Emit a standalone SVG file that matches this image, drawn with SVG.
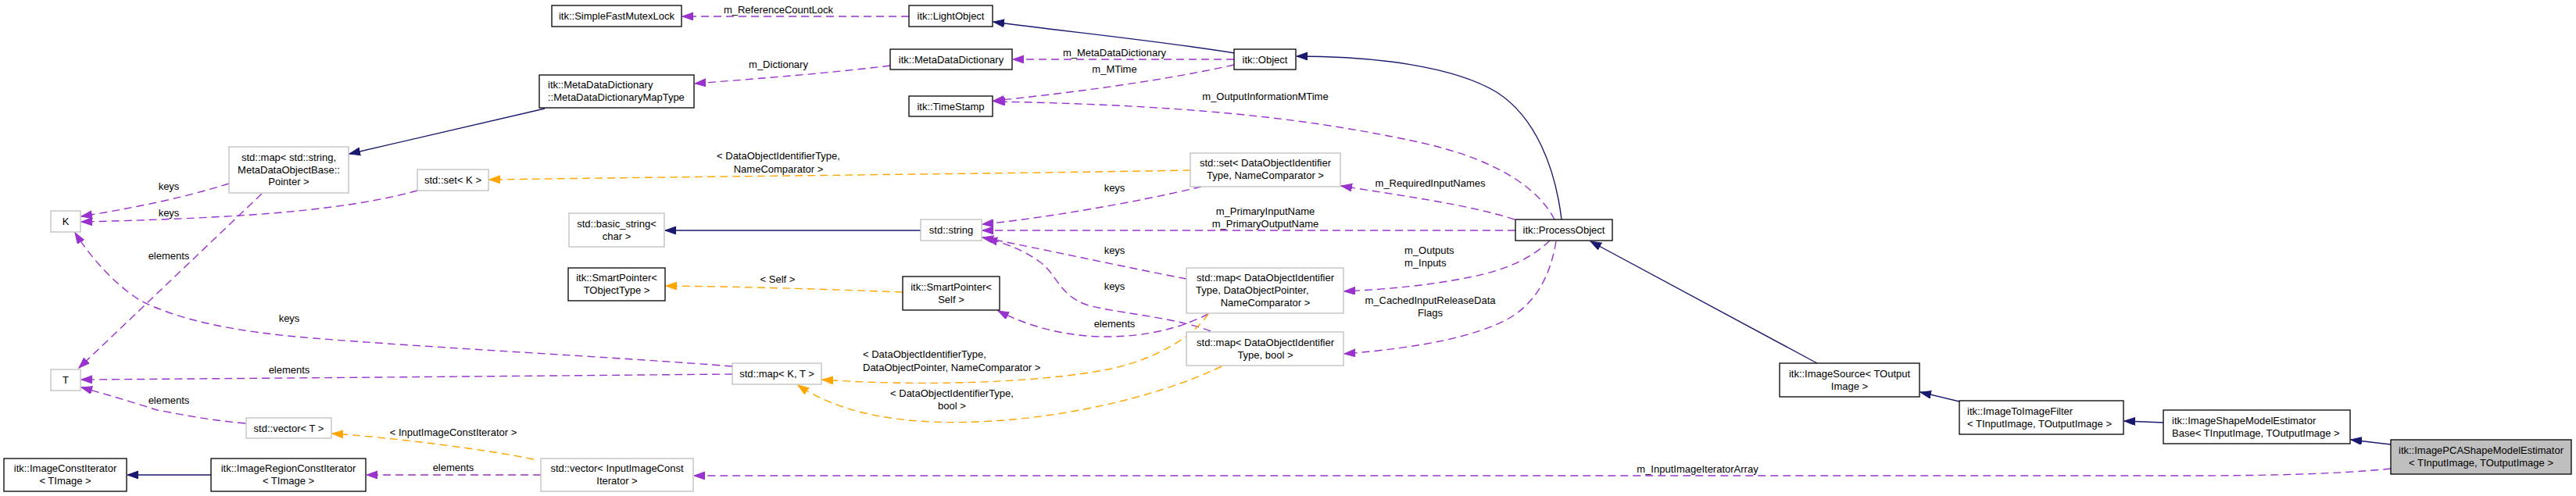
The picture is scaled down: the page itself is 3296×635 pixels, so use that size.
<svg xmlns="http://www.w3.org/2000/svg" width="3296" height="635" viewBox="0 0 3296 635">
<style>
text{font-family:"Liberation Sans",Arial,sans-serif;font-size:13px;fill:#000}
.c{text-anchor:middle}
.l{text-anchor:start}
.nd{fill:#fff;stroke:#000;stroke-width:1.3}
.nu{fill:#fff;stroke:#bfbfbf;stroke-width:1.3}
.nh{fill:#bfbfbf;stroke:#000;stroke-width:1.3}
.inh{fill:none;stroke:#191970;stroke-width:1.4;marker-end:url(#aB)}
.use{fill:none;stroke:#9a32cd;stroke-width:1.4;stroke-dasharray:10,6;marker-end:url(#aP)}
.tpl{fill:none;stroke:#ffa500;stroke-width:1.4;stroke-dasharray:10,6;marker-end:url(#aO)}
</style>
<defs>
<marker id="aB" markerUnits="userSpaceOnUse" markerWidth="16" markerHeight="12" refX="14" refY="5" orient="auto"><path d="M0,0 L14,5 L0,10 z" fill="#191970" stroke="#191970"/></marker>
<marker id="aP" markerUnits="userSpaceOnUse" markerWidth="16" markerHeight="12" refX="14" refY="5" orient="auto"><path d="M0,0 L14,5 L0,10 z" fill="#9a32cd" stroke="#9a32cd"/></marker>
<marker id="aO" markerUnits="userSpaceOnUse" markerWidth="16" markerHeight="12" refX="14" refY="5" orient="auto"><path d="M0,0 L14,5 L0,10 z" fill="#ffa500" stroke="#ffa500"/></marker>
</defs>
<rect width="3296" height="635" fill="#fff"/>
<g id="connectors">
<path class="inh" d="M1580,68 C1480,52 1360,40 1271,28"/>
<path class="inh" d="M1998,281 C1990,215 1965,150 1915,118 C1860,85 1760,72 1659,72"/>
<path class="inh" d="M2325,465 L2035,309"/>
<path class="inh" d="M2507,514 L2457,502"/>
<path class="inh" d="M2768,541 L2718,539"/>
<path class="inh" d="M3059,569 L3008,563"/>
<path class="inh" d="M697,139 L447,197"/>
<path class="inh" d="M1178,295 L851,295"/>
<path class="inh" d="M270,608 L163,608"/>
<path class="use" d="M1163,21 L873,21"/>
<text class="c" x="996" y="17">m_ReferenceCountLock</text>
<path class="use" d="M1139,84 C1050,95 950,102 889,107"/>
<text class="c" x="996" y="87">m_Dictionary</text>
<path class="use" d="M1579,76 L1296,76"/>
<text class="c" x="1426" y="72">m_MetaDataDictionary</text>
<path class="use" d="M1579,83 C1480,105 1360,120 1271,129"/>
<text class="c" x="1426" y="93">m_MTime</text>
<path class="use" d="M1989,281 C1960,225 1880,195 1806,180 C1700,158 1560,135 1272,130"/>
<text class="c" x="1619" y="128">m_OutputInformationMTime</text>
<path class="use" d="M1938,281 C1880,262 1790,250 1716,238"/>
<text class="c" x="1830" y="239">m_RequiredInputNames</text>
<path class="use" d="M1939,295 L1257,295"/>
<text class="c" x="1619" y="275">m_PrimaryInputName</text>
<text class="c" x="1619" y="291">m_PrimaryOutputName</text>
<path class="use" d="M1983,308 C1960,330 1930,345 1880,355 C1830,365 1780,370 1720,373"/>
<text class="l" x="1797" y="325">m_Outputs</text>
<text class="l" x="1797" y="341">m_Inputs</text>
<path class="use" d="M1991,309 C1985,345 1970,385 1930,408 C1890,430 1820,445 1720,453"/>
<text class="c" x="1830" y="389">m_CachedInputReleaseData</text>
<text class="c" x="1830" y="405">Flags</text>
<path class="use" d="M1537,239 C1450,260 1330,280 1257,287"/>
<text class="c" x="1426" y="245">keys</text>
<path class="use" d="M1518,357 C1430,340 1330,318 1257,304"/>
<text class="c" x="1426" y="325">keys</text>
<path class="use" d="M1549,424 C1500,405 1420,400 1390,390 C1355,378 1352,350 1330,335 C1310,320 1285,311 1262,306"/>
<text class="c" x="1426" y="371">keys</text>
<path class="use" d="M1546,402 C1510,420 1470,430 1422,431 C1370,432 1320,420 1277,398"/>
<text class="c" x="1426" y="419">elements</text>
<path class="tpl" d="M1155,374 C1050,370 950,367 852,366"/>
<text class="c" x="995" y="362">&lt; Self &gt;</text>
<path class="tpl" d="M1523,218 C1300,222 900,226 626,230"/>
<text class="c" x="996" y="204">&lt; DataObjectIdentifierType,</text>
<text class="c" x="996" y="221">NameComparator &gt;</text>
<path class="tpl" d="M1546,402 C1520,440 1460,465 1417,473 C1330,490 1180,495 1052,486"/>
<text class="l" x="1104" y="458">&lt; DataObjectIdentifierType,</text>
<text class="l" x="1104" y="475">DataObjectPointer, NameComparator &gt;</text>
<path class="tpl" d="M1563,469 C1500,500 1380,535 1250,540 C1130,545 1060,520 1021,493"/>
<text class="c" x="1218" y="508">&lt; DataObjectIdentifierType,</text>
<text class="c" x="1218" y="524">bool &gt;</text>
<path class="use" d="M937,469 C800,458 550,445 402,433 C300,425 230,410 180,385 C140,360 110,320 96,298"/>
<text class="c" x="370" y="412">keys</text>
<path class="use" d="M937,479 C700,481 400,484 104,486"/>
<text class="c" x="370" y="478">elements</text>
<path class="use" d="M293,235 C230,255 160,268 104,277"/>
<text class="c" x="216" y="243">keys</text>
<path class="use" d="M534,244 C470,262 380,272 290,277 C220,281 150,283 104,284"/>
<text class="c" x="216" y="277">keys</text>
<path class="use" d="M335,248 L101,471"/>
<text class="c" x="216" y="332">elements</text>
<path class="use" d="M314,542 C260,537 230,530 201,525 C170,515 130,503 104,496"/>
<text class="c" x="216" y="517">elements</text>
<path class="tpl" d="M683,588 C620,575 500,560 425,555"/>
<text class="c" x="580" y="558">&lt; InputImageConstIterator &gt;</text>
<path class="use" d="M692,608 L469,608"/>
<text class="c" x="580" y="603">elements</text>
<path class="use" d="M3059,600 C2990,607 2900,609 2800,609 L888,609"/>
<text class="c" x="2172" y="605">m_InputImageIteratorArray</text>
</g>
<g id="n_SimpleFastMutexLock"><rect class="nd" x="706" y="7" width="166" height="27"/><text class="c" x="789" y="25">itk::SimpleFastMutexLock</text></g>
<g id="n_LightObject"><rect class="nd" x="1163" y="7" width="107" height="27"/><text class="c" x="1216.5" y="25">itk::LightObject</text></g>
<g id="n_MetaDataDictionary"><rect class="nd" x="1139" y="63" width="156" height="26"/><text class="c" x="1217" y="80.5">itk::MetaDataDictionary</text></g>
<g id="n_Object"><rect class="nd" x="1579" y="63" width="79" height="26"/><text class="c" x="1618.5" y="80.5">itk::Object</text></g>
<g id="n_TimeStamp"><rect class="nd" x="1163" y="123" width="107" height="26"/><text class="c" x="1216.5" y="140.5">itk::TimeStamp</text></g>
<g id="n_MapType"><rect class="nd" x="690" y="96" width="198" height="42"/><text class="l" x="701" y="113">itk::MetaDataDictionary</text><text class="l" x="701" y="129">::MetaDataDictionaryMapType</text></g>
<g id="n_mapString"><rect class="nu" x="293" y="188" width="153" height="59"/><text class="c" x="369.5" y="205.5">std::map&lt; std::string,</text><text class="c" x="369.5" y="221.5">MetaDataObjectBase::</text><text class="c" x="369.5" y="236.5">Pointer &gt;</text></g>
<g id="n_setK"><rect class="nu" x="534" y="217" width="91" height="27"/><text class="c" x="579.5" y="235">std::set&lt; K &gt;</text></g>
<g id="n_K"><rect class="nu" x="65" y="270" width="38" height="27"/><text class="c" x="84" y="288">K</text></g>
<g id="n_basic_string"><rect class="nu" x="728" y="273" width="122" height="43"/><text class="c" x="789" y="291">std::basic_string&lt;</text><text class="c" x="789" y="307">char &gt;</text></g>
<g id="n_string"><rect class="nu" x="1178" y="281" width="78" height="27"/><text class="c" x="1217" y="299">std::string</text></g>
<g id="n_setDOI"><rect class="nu" x="1523" y="196" width="192" height="43"/><text class="c" x="1619" y="213">std::set&lt; DataObjectIdentifier</text><text class="c" x="1619" y="229">Type, NameComparator &gt;</text></g>
<g id="n_ProcessObject"><rect class="nd" x="1939" y="281" width="124" height="27"/><text class="c" x="2001" y="299">itk::ProcessObject</text></g>
<g id="n_SmartPointerT"><rect class="nd" x="727" y="343" width="124" height="42"/><text class="c" x="789" y="360">itk::SmartPointer&lt;</text><text class="c" x="789" y="376">TObjectType &gt;</text></g>
<g id="n_SmartPointerSelf"><rect class="nd" x="1155" y="354" width="124" height="43"/><text class="c" x="1217" y="372">itk::SmartPointer&lt;</text><text class="c" x="1217" y="388">Self &gt;</text></g>
<g id="n_mapDOP"><rect class="nu" x="1518" y="343" width="201" height="58"/><text class="c" x="1619" y="360">std::map&lt; DataObjectIdentifier</text><text class="l" x="1530" y="376">Type, DataObjectPointer,</text><text class="c" x="1619" y="392">NameComparator &gt;</text></g>
<g id="n_mapBool"><rect class="nu" x="1518" y="425" width="201" height="43"/><text class="c" x="1619" y="443">std::map&lt; DataObjectIdentifier</text><text class="c" x="1619" y="459">Type, bool &gt;</text></g>
<g id="n_mapKT"><rect class="nu" x="937" y="465" width="114" height="27"/><text class="c" x="994" y="483">std::map&lt; K, T &gt;</text></g>
<g id="n_T"><rect class="nu" x="65" y="473" width="38" height="27"/><text class="c" x="84" y="491">T</text></g>
<g id="n_vectorT"><rect class="nu" x="315" y="535" width="109" height="26"/><text class="c" x="369.5" y="552.5">std::vector&lt; T &gt;</text></g>
<g id="n_ImageConstIterator"><rect class="nd" x="5" y="587" width="157" height="42"/><text class="c" x="83.5" y="604">itk::ImageConstIterator</text><text class="c" x="83.5" y="620">&lt; TImage &gt;</text></g>
<g id="n_ImageRegionConstIterator"><rect class="nd" x="270" y="587" width="198" height="42"/><text class="c" x="369" y="604">itk::ImageRegionConstIterator</text><text class="c" x="369" y="620">&lt; TImage &gt;</text></g>
<g id="n_vectorIter"><rect class="nu" x="692" y="587" width="195" height="42"/><text class="c" x="789.5" y="604">std::vector&lt; InputImageConst</text><text class="c" x="789.5" y="620">Iterator &gt;</text></g>
<g id="n_ImageSource"><rect class="nd" x="2277" y="465" width="179" height="43"/><text class="c" x="2366.5" y="483">itk::ImageSource&lt; TOutput</text><text class="c" x="2366.5" y="499">Image &gt;</text></g>
<g id="n_ImageToImageFilter"><rect class="nd" x="2507" y="513" width="210" height="43"/><text class="l" x="2517" y="531">itk::ImageToImageFilter</text><text class="l" x="2517" y="547">&lt; TInputImage, TOutputImage &gt;</text></g>
<g id="n_ShapeModelBase"><rect class="nd" x="2768" y="525" width="239" height="43"/><text class="l" x="2779" y="543">itk::ImageShapeModelEstimator</text><text class="l" x="2779" y="559">Base&lt; TInputImage, TOutputImage &gt;</text></g>
<g id="n_PCAShapeModel"><rect class="nh" x="3059" y="563" width="231" height="44"/><text class="c" x="3174.5" y="581">itk::ImagePCAShapeModelEstimator</text><text class="c" x="3174.5" y="597">&lt; TInputImage, TOutputImage &gt;</text></g>
</svg>
